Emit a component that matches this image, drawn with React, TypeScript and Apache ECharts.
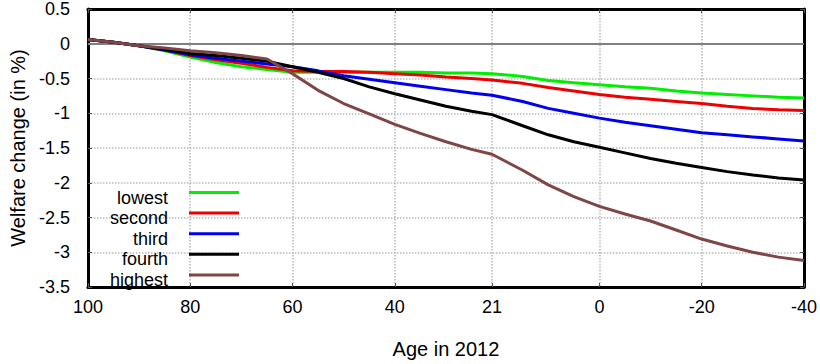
import React, { useEffect, useRef } from 'react';
import * as echarts from 'echarts';

const ages = [100, 95, 90, 85, 80, 75, 70, 65, 60, 55, 50, 45, 40, 35, 30, 25, 21, 15, 10, 5, 0, -5, -10, -15, -20, -25, -30, -35, -40];
const lowest = [0.06, 0.02, -0.03, -0.10, -0.19, -0.27, -0.33, -0.37, -0.41, -0.41, -0.41, -0.41, -0.41, -0.41, -0.42, -0.42, -0.43, -0.47, -0.53, -0.56, -0.59, -0.62, -0.64, -0.68, -0.71, -0.73, -0.75, -0.77, -0.78];
const second = [0.06, 0.02, -0.03, -0.09, -0.17, -0.23, -0.28, -0.34, -0.39, -0.40, -0.40, -0.41, -0.43, -0.45, -0.48, -0.50, -0.52, -0.57, -0.63, -0.68, -0.73, -0.77, -0.80, -0.83, -0.86, -0.90, -0.93, -0.95, -0.96];
const third = [0.06, 0.02, -0.03, -0.09, -0.16, -0.21, -0.25, -0.29, -0.33, -0.39, -0.46, -0.51, -0.56, -0.61, -0.66, -0.71, -0.74, -0.83, -0.93, -1.00, -1.07, -1.13, -1.18, -1.23, -1.28, -1.31, -1.34, -1.37, -1.40];
const fourth = [0.06, 0.02, -0.03, -0.08, -0.14, -0.17, -0.21, -0.25, -0.33, -0.41, -0.50, -0.62, -0.72, -0.81, -0.90, -0.97, -1.02, -1.18, -1.31, -1.41, -1.49, -1.57, -1.65, -1.72, -1.78, -1.84, -1.89, -1.93, -1.96];
const highest = [0.06, 0.02, -0.03, -0.06, -0.10, -0.13, -0.17, -0.22, -0.43, -0.67, -0.86, -1.01, -1.16, -1.29, -1.41, -1.52, -1.59, -1.82, -2.03, -2.20, -2.34, -2.45, -2.55, -2.68, -2.81, -2.91, -3.00, -3.07, -3.12];

const seriesNames = ['lowest', 'second', 'third', 'fourth', 'highest'];
const seriesValues = [lowest, second, third, fourth, highest];
const seriesColors = ['#00ee00', '#ee0000', '#0000ee', '#000000', '#7e4646'];
const xTickValues = [100, 80, 60, 40, 21, 0, -20, -40];

const FONT = "'Liberation Sans', Arial, sans-serif";

export default function App() {
  const ref = useRef<HTMLDivElement>(null);
  useEffect(() => {
    if (!ref.current) return;
    const chart = echarts.init(ref.current, null, { renderer: 'svg' });
    const gridDotted = { type: 'dotted' as const, color: '#b8b8b8', width: 1.5 };
    const axisLineStyle = { color: '#000', width: 3 };
    const tickStyle = { color: '#555', width: 1 };

    const legendGraphics: any[] = [];
    seriesNames.forEach((n, i) => {
      const y = 192.5 + i * 20.6;
      legendGraphics.push({
        type: 'text',
        x: 168,
        y: y + 5,
        style: { text: n, fontSize: 18, fontFamily: FONT, fill: '#000', textAlign: 'right', textVerticalAlign: 'middle' },
        z: 100,
      });
      legendGraphics.push({
        type: 'line',
        shape: { x1: 189, y1: y, x2: 239, y2: y },
        style: { stroke: seriesColors[i], lineWidth: 3 },
        z: 100,
      });
    });

    chart.setOption({
      animation: false,
      grid: { left: 84, right: 14, top: 4, bottom: 77, show: false },
      xAxis: [
        {
          type: 'value',
          min: -40,
          max: 100,
          inverse: true,
          position: 'bottom',
          axisLine: { show: true, onZero: false, lineStyle: axisLineStyle },
          axisTick: { show: true, inside: true, length: 4, customValues: xTickValues, lineStyle: tickStyle },
          axisLabel: { customValues: xTickValues, fontSize: 18, color: '#000', margin: 11, fontFamily: FONT },
          splitLine: { show: true, lineStyle: gridDotted },
          name: 'Age in 2012',
          nameLocation: 'middle',
          nameGap: 52,
          nameTextStyle: { fontSize: 20, color: '#000', fontFamily: FONT },
        },
        {
          type: 'value',
          min: -40,
          max: 100,
          inverse: true,
          position: 'top',
          axisLine: { show: true, onZero: false, lineStyle: axisLineStyle },
          axisTick: { show: true, inside: true, length: 4, customValues: xTickValues, lineStyle: tickStyle },
          axisLabel: { show: false },
          splitLine: { show: false },
        },
      ],
      yAxis: [
        {
          type: 'value',
          min: -3.5,
          max: 0.5,
          interval: 0.5,
          position: 'left',
          axisLine: { show: true, onZero: false, lineStyle: axisLineStyle },
          axisTick: { show: true, inside: true, length: 4, lineStyle: tickStyle },
          axisLabel: { fontSize: 18, color: '#000', margin: 18, fontFamily: FONT, padding: [9, 0, 0, 0] },
          splitLine: { show: true, lineStyle: gridDotted },
          name: 'Welfare change (in %)',
          nameLocation: 'middle',
          nameGap: 58,
          nameTextStyle: { fontSize: 20, color: '#000', fontFamily: FONT },
        },
        {
          type: 'value',
          min: -3.5,
          max: 0.5,
          interval: 0.5,
          position: 'right',
          axisLine: { show: true, onZero: false, lineStyle: axisLineStyle },
          axisTick: { show: true, inside: true, length: 4, lineStyle: tickStyle },
          axisLabel: { show: false },
          splitLine: { show: false },
        },
      ],
      series: seriesNames.map((name, i) => ({
        name,
        type: 'line',
        xAxisIndex: 0,
        yAxisIndex: 0,
        data: ages.map((a, j) => [a, seriesValues[i][j]]),
        showSymbol: false,
        symbol: 'none',
        lineStyle: { color: seriesColors[i], width: 3 },
        itemStyle: { color: seriesColors[i] },
        z: 3 + i,
        markLine: i === 0 ? {
          silent: true,
          symbol: 'none',
          label: { show: false },
          lineStyle: { color: '#808080', type: 'solid', width: 2 },
          data: [{ yAxis: 0 }],
          z: 1,
        } : undefined,
      })),
      graphic: legendGraphics,
    });
    return () => chart.dispose();
  }, []);
  return <div ref={ref} style={{ position: 'absolute', left: 0, top: 0, width: 820, height: 364 }} />;
}
